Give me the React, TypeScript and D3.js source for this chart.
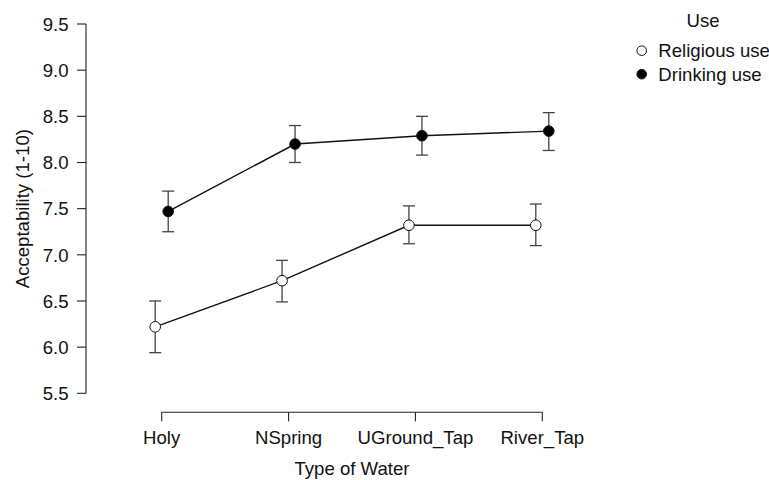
import React from "react";
import * as d3 from "d3";

const categories = ["Holy", "NSpring", "UGround_Tap", "River_Tap"];
const seriesNames = ["Religious use", "Drinking use"];
const religiousMean = [6.22, 6.72, 7.32, 7.32];
const religiousLow = [5.94, 6.49, 7.12, 7.1];
const religiousHigh = [6.5, 6.94, 7.53, 7.55];
const drinkingMean = [7.47, 8.2, 8.29, 8.34];
const drinkingLow = [7.25, 8.0, 8.08, 8.13];
const drinkingHigh = [7.69, 8.4, 8.5, 8.54];
const yTicks = [5.5, 6.0, 6.5, 7.0, 7.5, 8.0, 8.5, 9.0, 9.5];

const W = 769;
const H = 480;
const FONT = "'Liberation Sans', Arial, sans-serif";
const FS = 18.6;

export default function App() {
  const x = d3.scalePoint<string>().domain(categories).range([161.7, 542.3]);
  const y = d3.scaleLinear().domain([5.5, 9.5]).range([393.3, 24]);
  const dodge = 6.5;
  const axisX = 86;
  const axisY = 412.3;

  const series = [
    { name: seriesNames[0], mean: religiousMean, lo: religiousLow, hi: religiousHigh, fill: "#ffffff", off: -dodge },
    { name: seriesNames[1], mean: drinkingMean, lo: drinkingLow, hi: drinkingHigh, fill: "#000000", off: dodge },
  ];

  const line = d3
    .line<[number, number]>()
    .x((d) => d[0])
    .y((d) => d[1]);

  return (
    <div style={{ position: "fixed", left: 0, top: 0, width: W, height: H, background: "#fff" }}>
      <svg width={W} height={H} style={{ display: "block" }} fontFamily={FONT}>
        <rect width={W} height={H} fill="#fff" />
        {/* Y axis */}
        <line x1={axisX} x2={axisX} y1={y(9.5)} y2={y(5.5)} stroke="#222" strokeWidth={1.1} />
        {yTicks.map((t) => (
          <g key={t}>
            <line x1={axisX - 9} x2={axisX} y1={y(t)} y2={y(t)} stroke="#222" strokeWidth={1.1} />
            <text x={68.5} y={y(t)} dy="0.36em" textAnchor="end" fontSize={FS} fill="#111">
              {t.toFixed(1)}
            </text>
          </g>
        ))}
        <text
          transform={`translate(28.5,${(y(9.5) + y(5.5)) / 2}) rotate(-90)`}
          textAnchor="middle"
          fontSize={FS}
          fill="#111"
        >
          Acceptability (1-10)
        </text>
        {/* X axis */}
        <line x1={x(categories[0])!} x2={x(categories[categories.length - 1])!} y1={axisY} y2={axisY} stroke="#222" strokeWidth={1.1} />
        {categories.map((c) => (
          <g key={c}>
            <line x1={x(c)!} x2={x(c)!} y1={axisY} y2={axisY + 9} stroke="#222" strokeWidth={1.1} />
            <text x={x(c)!} y={443.5} textAnchor="middle" fontSize={FS} fill="#111">
              {c}
            </text>
          </g>
        ))}
        <text x={(x(categories[0])! + x(categories[3])!) / 2} y={475} textAnchor="middle" fontSize={FS} fill="#111">
          Type of Water
        </text>
        {/* Series */}
        {series.map((s) => {
          const pts: [number, number][] = categories.map((c, i) => [x(c)! + s.off, y(s.mean[i])]);
          return (
            <g key={s.name}>
              <path d={line(pts)!} fill="none" stroke="#111" strokeWidth={1.4} />
              {categories.map((c, i) => {
                const cx = x(c)! + s.off;
                return (
                  <g key={c}>
                    <line x1={cx} x2={cx} y1={y(s.lo[i])} y2={y(s.hi[i])} stroke="#444" strokeWidth={1.3} />
                    <line x1={cx - 6} x2={cx + 6} y1={y(s.lo[i])} y2={y(s.lo[i])} stroke="#444" strokeWidth={1.3} />
                    <line x1={cx - 6} x2={cx + 6} y1={y(s.hi[i])} y2={y(s.hi[i])} stroke="#444" strokeWidth={1.3} />
                    <circle cx={cx} cy={y(s.mean[i])} r={5.3} fill={s.fill} stroke="#111" strokeWidth={1} />
                  </g>
                );
              })}
            </g>
          );
        })}
        {/* Legend */}
        <text x={703} y={27} textAnchor="middle" fontSize={FS} fill="#111">
          Use
        </text>
        {series.map((s, i) => (
          <g key={s.name}>
            <circle cx={641.7} cy={50.7 + i * 23.5} r={4.8} fill={s.fill} stroke="#111" strokeWidth={1} />
            <text x={658.3} y={50.7 + i * 23.5} dy="0.36em" fontSize={FS} fill="#111">
              {s.name}
            </text>
          </g>
        ))}
      </svg>
    </div>
  );
}
